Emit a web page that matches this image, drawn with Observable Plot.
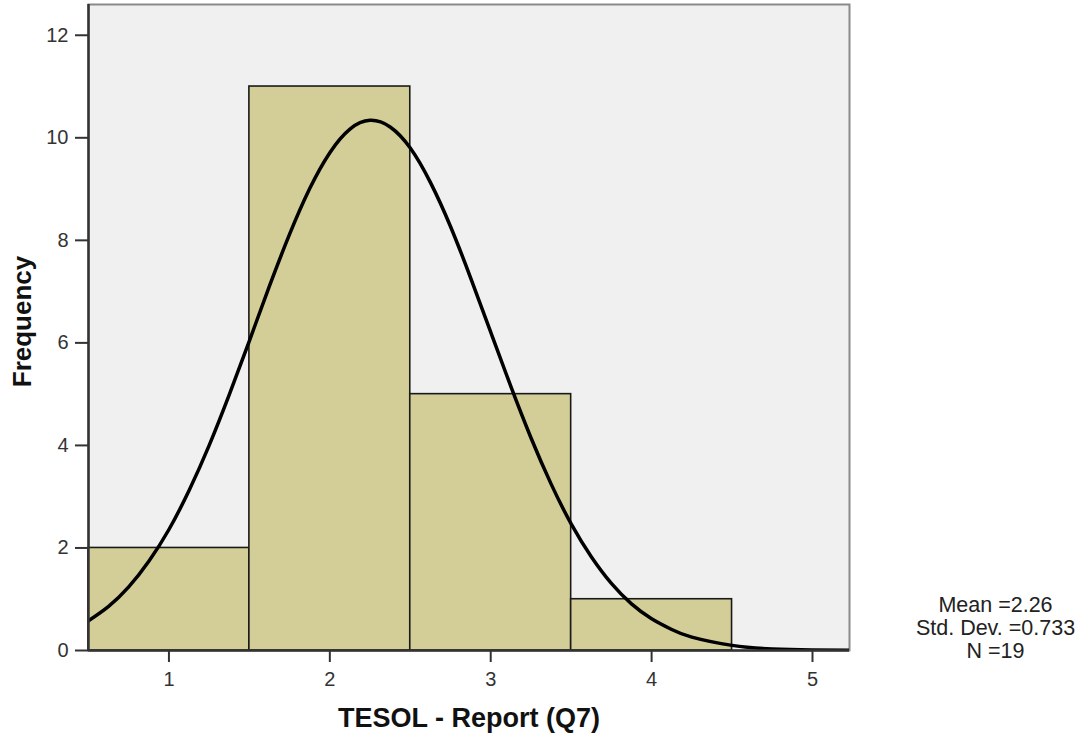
<!DOCTYPE html>
<html>
<head>
<meta charset="utf-8">
<script src="https://cdn.jsdelivr.net/npm/d3@7"></script>
<script src="https://cdn.jsdelivr.net/npm/@observablehq/plot@0.6"></script>
<style>
  html, body { margin: 0; padding: 0; background: #fff; }
  #chart { width: 1080px; height: 740px; }
</style>
</head>
<body>
<div id="chart"></div>
<script>
// Histogram bins (TESOL - Report (Q7))
const binStart = [0.5, 1.5, 2.5, 3.5];
const binEnd   = [1.5, 2.5, 3.5, 4.5];
const counts   = [2, 11, 5, 1];

// Normal curve
const curveX = [0.5, 0.625, 0.75, 0.875, 1.0, 1.125, 1.25, 1.375, 1.5, 1.625, 1.75, 1.875, 2.0, 2.125, 2.25, 2.375, 2.5, 2.625, 2.75, 2.875, 3.0, 3.125, 3.25, 3.375, 3.5, 3.625, 3.75, 3.875, 4.0, 4.125, 4.25, 4.5, 4.75, 5.0, 5.25];
const curveY = [0.58, 0.86, 1.24, 1.74, 2.36, 3.12, 4.00, 4.99, 6.04, 7.11, 8.12, 9.01, 9.71, 10.17, 10.34, 10.21, 9.80, 9.13, 8.27, 7.27, 6.21, 5.15, 4.15, 3.25, 2.47, 1.83, 1.31, 0.91, 0.62, 0.41, 0.26, 0.10, 0.03, 0.01, 0.0025];

const xTicks = [1, 2, 3, 4, 5];
const yTicks = [0, 2, 4, 6, 8, 10, 12];
const statsText = ["Mean =2.26", "Std. Dev. =0.733", "N =19"];

const bars = binStart.map((s, i) => ({x1: s, x2: binEnd[i], y: counts[i]}));
const curve = curveX.map((x, i) => ({x, y: curveY[i]}));

const chart = Plot.plot({
  width: 1080,
  height: 740,
  marginLeft: 88,
  marginTop: 4,
  marginRight: 231,
  marginBottom: 90,
  style: {fontFamily: "'Liberation Sans', Arial, sans-serif", fontSize: "20px", color: "#333", background: "#fff"},
  x: {domain: [0.5, 5.23]},
  y: {domain: [0, 12.6]},
  marks: [
    Plot.frame({fill: "#f0f0f0", stroke: "#8a8a8a", strokeWidth: 2}),
    Plot.rectY(bars, {x1: "x1", x2: "x2", y: "y", fill: "#d3ce97", stroke: "#1a1a1a", strokeWidth: 1.6}),
    Plot.line(curve, {x: "x", y: "y", stroke: "#000", strokeWidth: 3.5, curve: "natural", clip: true}),
    Plot.ruleX([0.5], {stroke: "#333", strokeWidth: 2.5}),
    Plot.ruleY([0], {stroke: "#333", strokeWidth: 2.5}),
    Plot.axisY({ticks: yTicks, tickSize: 13, tickPadding: 7, tickFormat: d => d, stroke: "#333", strokeWidth: 2, fill: "#333", fontSize: 20, label: null}),
    Plot.axisX({ticks: xTicks, tickSize: 12, tickPadding: 9, tickFormat: d => d, stroke: "#333", strokeWidth: 2, fill: "#333", fontSize: 20, label: null}),
    Plot.text(["Frequency"], {frameAnchor: "left", dx: -66, dy: -6, rotate: -90, textAnchor: "middle", fontSize: 26, fontWeight: "bold", fill: "#111"}),
    Plot.text(["TESOL - Report (Q7)"], {frameAnchor: "bottom", dy: 76, fontSize: 27, fontWeight: "bold", fill: "#111"}),
    Plot.text([statsText.join("\n")], {frameAnchor: "bottom-right", dx: 146, dy: 7, lineAnchor: "bottom", textAnchor: "middle", lineHeight: 1.05, fontSize: 21.5, fill: "#222"})
  ]
});
document.getElementById("chart").appendChild(chart);
</script>
</body>
</html>
